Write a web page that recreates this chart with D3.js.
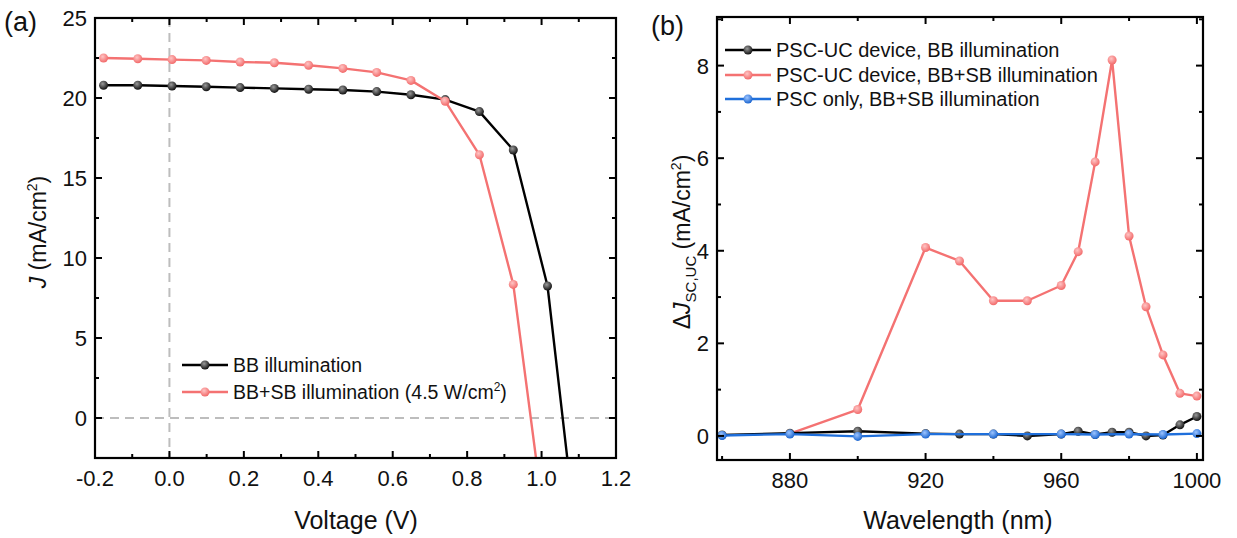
<!DOCTYPE html>
<html>
<head>
<meta charset="utf-8">
<script src="https://cdn.jsdelivr.net/npm/d3@7"></script>
<style>
  body { margin: 0; background: #fff; }
  svg text { font-family: "Liberation Sans", Arial, sans-serif; fill: #111; }
</style>
</head>
<body>
<div id="chart"></div>
<script>
// panel (a): J-V curves
const voltage = [-0.177, -0.085, 0.007, 0.099, 0.19, 0.282, 0.374, 0.466, 0.557, 0.649, 0.741, 0.833, 0.924, 1.016, 1.108];
const jBB = [20.8, 20.8, 20.75, 20.7, 20.65, 20.6, 20.55, 20.5, 20.4, 20.2, 19.9, 19.15, 16.75, 8.25, -10.4];
const jBBSB = [22.5, 22.45, 22.4, 22.35, 22.25, 22.2, 22.05, 21.85, 21.6, 21.1, 19.8, 16.45, 8.35, -8.0];
const voltTicks = [-0.2, 0.0, 0.2, 0.4, 0.6, 0.8, 1.0, 1.2];
const jTicks = [0, 5, 10, 15, 20, 25];

// panel (b): delta Jsc spectra
const wlBB = [860, 880, 900, 920, 930, 940, 950, 960, 965, 970, 975, 980, 985, 990, 995, 1000];
const dBB = [0.02, 0.06, 0.1, 0.05, 0.04, 0.04, 0.0, 0.04, 0.1, 0.03, 0.08, 0.08, 0.0, 0.02, 0.24, 0.42];
const wlUC = [880, 900, 920, 930, 940, 950, 960, 965, 970, 975, 980, 985, 990, 995, 1000];
const dUC = [0.05, 0.57, 4.07, 3.78, 2.92, 2.92, 3.25, 3.98, 5.92, 8.12, 4.32, 2.79, 1.75, 0.92, 0.86];
const wlPSC = [860, 880, 900, 920, 940, 960, 970, 980, 990, 1000];
const dPSC = [0.01, 0.04, -0.01, 0.04, 0.04, 0.04, 0.03, 0.04, 0.03, 0.05];
const wlTicks = [880, 920, 960, 1000];
const dTicks = [0, 2, 4, 6, 8];

const BLACK = "#000000";
const RED = "#F47272";
const BLUE = "#1F6FDB";

const W = 1237, H = 538;
const svg = d3.select("#chart").append("svg")
  .attr("width", W).attr("height", H);

const defs = svg.append("defs");

function ballGradient(id, base, light) {
  const g = defs.append("radialGradient")
    .attr("id", id).attr("cx", "40%").attr("cy", "35%").attr("r", "65%");
  g.append("stop").attr("offset", "0%").attr("stop-color", light);
  g.append("stop").attr("offset", "100%").attr("stop-color", base);
}
ballGradient("ballBlack", "#111", "#9a9a9a");
ballGradient("ballRed", "#f26a6a", "#ffc4c4");
ballGradient("ballBlue", "#1c66d0", "#9cc4ff");

const fills = { [BLACK]: "url(#ballBlack)", [RED]: "url(#ballRed)", [BLUE]: "url(#ballBlue)" };

// plain hyphen minus, like the original figure
const fmt1 = function (v) { return v.toFixed(1).replace("\u2212", "-"); };
const fmt0 = function (v) { return String(v); };

function drawFrame(g, x0, x1, y0, y1) {
  g.append("rect")
    .attr("x", x0).attr("y", y0)
    .attr("width", x1 - x0).attr("height", y1 - y0)
    .attr("fill", "none").attr("stroke", "#000").attr("stroke-width", 2.2);
}

function drawTicks(g, x, y, xMajor, xMinor, yMajor, yMinor, xFmt, yFmt) {
  const [x0, x1] = x.range();
  const [y0, y1] = y.range(); // y0 bottom, y1 top
  const tick = function (list, len, horizontal) {
    list.forEach(function (v) {
      if (horizontal) {
        const px = x(v);
        g.append("line").attr("x1", px).attr("x2", px).attr("y1", y0).attr("y2", y0 - len)
          .attr("stroke", "#000").attr("stroke-width", 2);
        g.append("line").attr("x1", px).attr("x2", px).attr("y1", y1).attr("y2", y1 + len)
          .attr("stroke", "#000").attr("stroke-width", 2);
      } else {
        const py = y(v);
        g.append("line").attr("x1", x0).attr("x2", x0 + len).attr("y1", py).attr("y2", py)
          .attr("stroke", "#000").attr("stroke-width", 2);
        g.append("line").attr("x1", x1).attr("x2", x1 - len).attr("y1", py).attr("y2", py)
          .attr("stroke", "#000").attr("stroke-width", 2);
      }
    });
  };
  tick(xMajor, 7, true);
  tick(xMinor, 4, true);
  tick(yMajor, 7, false);
  tick(yMinor, 4, false);

  xMajor.forEach(function (v) {
    g.append("text").attr("x", x(v)).attr("y", y0 + 28)
      .attr("text-anchor", "middle").attr("font-size", 22).text(xFmt(v));
  });
  yMajor.forEach(function (v) {
    g.append("text").attr("x", x0 - 8).attr("y", y(v) + 8)
      .attr("text-anchor", "end").attr("font-size", 22).text(yFmt(v));
  });
}

function drawSeries(g, x, y, xs, ys, color, clipId) {
  const pts = xs.map(function (v, i) { return [v, ys[i]]; });
  const line = d3.line().x(function (d) { return x(d[0]); }).y(function (d) { return y(d[1]); });
  const layer = g.append("g");
  if (clipId) layer.attr("clip-path", "url(#" + clipId + ")");
  layer.append("path").datum(pts)
    .attr("d", line).attr("fill", "none")
    .attr("stroke", color).attr("stroke-width", 2.4).attr("stroke-linejoin", "round");
  layer.selectAll("circle").data(pts).join("circle")
    .attr("cx", function (d) { return x(d[0]); })
    .attr("cy", function (d) { return y(d[1]); })
    .attr("r", 4.5)
    .attr("fill", fills[color]);
}

function legendRow(g, lx, ly, color, label, size) {
  g.append("line").attr("x1", lx).attr("x2", lx + 46).attr("y1", ly).attr("y2", ly)
    .attr("stroke", color).attr("stroke-width", 2.4);
  g.append("circle").attr("cx", lx + 23).attr("cy", ly).attr("r", 4.5).attr("fill", fills[color]);
  return g.append("text").attr("x", lx + 51).attr("y", ly + 7).attr("font-size", size).text(label);
}

// ---------- panel (a) ----------
const ga = svg.append("g");
const xa = d3.scaleLinear().domain([-0.2, 1.2]).range([95, 616]);
const ya = d3.scaleLinear().domain([-2.5, 25]).range([458, 18]);

defs.append("clipPath").attr("id", "clipA")
  .append("rect").attr("x", 95).attr("y", 18).attr("width", 521).attr("height", 440);

ga.append("line").attr("x1", xa(0)).attr("x2", xa(0)).attr("y1", ya(25)).attr("y2", ya(-2.5))
  .attr("stroke", "#bdbdbd").attr("stroke-width", 2).attr("stroke-dasharray", "9,6");
ga.append("line").attr("x1", xa(-0.2)).attr("x2", xa(1.2)).attr("y1", ya(0)).attr("y2", ya(0))
  .attr("stroke", "#bdbdbd").attr("stroke-width", 2).attr("stroke-dasharray", "9,6");

drawSeries(ga, xa, ya, voltage, jBB, BLACK, "clipA");
drawSeries(ga, xa, ya, voltage.slice(0, jBBSB.length), jBBSB, RED, "clipA");

drawFrame(ga, 95, 616, 18, 458);
drawTicks(ga, xa, ya,
  voltTicks, d3.range(-0.1, 1.2, 0.2),
  jTicks, [-2.5, 2.5, 7.5, 12.5, 17.5, 22.5],
  fmt1, fmt0);

legendRow(ga, 182, 365, BLACK, "BB illumination", 19.5);
const la = legendRow(ga, 182, 392, RED, "BB+SB illumination (4.5 W/cm", 19.5);
la.append("tspan").attr("dy", -8).attr("font-size", 12).text("2");
la.append("tspan").attr("dy", 8).text(")");

ga.append("text").attr("x", 356).attr("y", 529).attr("text-anchor", "middle")
  .attr("font-size", 25).text("Voltage (V)");
const yla = ga.append("text").attr("transform", "translate(46,232) rotate(-90)")
  .attr("text-anchor", "middle").attr("font-size", 23);
yla.append("tspan").attr("font-style", "italic").text("J");
yla.append("tspan").text("\u00a0(mA/cm");
yla.append("tspan").attr("dy", -9).attr("font-size", 14).text("2");
yla.append("tspan").attr("dy", 9).text(")");

svg.append("text").attr("x", 4).attr("y", 31).attr("font-size", 27).text("(a)");

// ---------- panel (b) ----------
const gb = svg.append("g");
const xb = d3.scaleLinear().domain([858.5, 1001.8]).range([717, 1203]);
const yb = d3.scaleLinear().domain([-0.52, 9.05]).range([460, 17]);

drawSeries(gb, xb, yb, wlUC, dUC, RED);
drawSeries(gb, xb, yb, wlBB, dBB, BLACK);
drawSeries(gb, xb, yb, wlPSC, dPSC, BLUE);

drawFrame(gb, 717, 1203, 17, 460);
drawTicks(gb, xb, yb,
  wlTicks, [860, 900, 940, 980],
  dTicks, [1, 3, 5, 7, 9],
  fmt0, fmt0);

legendRow(gb, 725, 50, BLACK, "PSC-UC device, BB illumination", 20);
legendRow(gb, 725, 75, RED, "PSC-UC device, BB+SB illumination", 20);
legendRow(gb, 725, 99, BLUE, "PSC only, BB+SB illumination", 20);

gb.append("text").attr("x", 958).attr("y", 529).attr("text-anchor", "middle")
  .attr("font-size", 25).text("Wavelength (nm)");
const ylb = gb.append("text").attr("transform", "translate(690,242) rotate(-90)")
  .attr("text-anchor", "middle").attr("font-size", 23);
ylb.append("tspan").text("\u0394");
ylb.append("tspan").attr("font-style", "italic").text("J");
ylb.append("tspan").attr("dy", 6).attr("font-size", 15).text("SC,UC");
ylb.append("tspan").attr("dy", -6).text("\u00a0(mA/cm");
ylb.append("tspan").attr("dy", -9).attr("font-size", 14).text("2");
ylb.append("tspan").attr("dy", 9).text(")");

svg.append("text").attr("x", 651).attr("y", 35).attr("font-size", 27).text("(b)");
</script>
</body>
</html>
